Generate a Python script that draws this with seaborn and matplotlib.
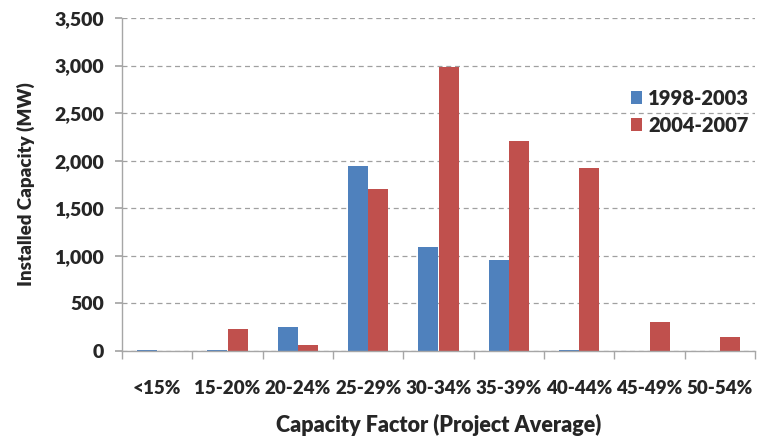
import matplotlib
matplotlib.use("Agg")
import matplotlib.pyplot as plt
import matplotlib.ticker as mticker
import seaborn as sns
import pandas as pd

categories = ["<15%", "15-20%", "20-24%", "25-29%", "30-34%", "35-39%", "40-44%", "45-49%", "50-54%"]
series_names = ["1998-2003", "2004-2007"]
values_1998_2003 = [10, 10, 250, 1940, 1090, 960, 15, 0, 0]
values_2004_2007 = [0, 230, 60, 1700, 2980, 2210, 1920, 310, 145]
colors = ["#4F81BD", "#C0504D"]

rows = []
for c, v in zip(categories, values_1998_2003):
    rows.append({"cat": c, "val": v, "period": series_names[0]})
for c, v in zip(categories, values_2004_2007):
    rows.append({"cat": c, "val": v, "period": series_names[1]})
df = pd.DataFrame(rows)

sns.set_theme(style="white")
plt.rcParams['font.family'] = ['Lato', 'DejaVu Sans']
W = 'heavy'
plt.rcParams['font.weight'] = W

fig = plt.figure(figsize=(7.59, 4.36), dpi=100)
ax = fig.add_axes([122/759, 1-351/436, 633/759, 333/436])

sns.barplot(data=df, x="cat", y="val", hue="period", order=categories,
            hue_order=series_names, palette=colors, width=0.57, ax=ax,
            linewidth=0, saturation=1, errorbar=None)

ax.set_xlim(-0.5, 8.5)
ax.set_ylim(0, 3500)
ax.yaxis.set_major_locator(mticker.MultipleLocator(500))
ax.yaxis.set_major_formatter(mticker.FuncFormatter(lambda v, p: f"{int(v):,}"))
ax.yaxis.grid(True, linestyle=(0, (4, 3)), color="#A0A0A0", linewidth=0.9)
ax.set_axisbelow(True)

for s in ["top", "right"]:
    ax.spines[s].set_visible(False)
for s in ["left", "bottom"]:
    ax.spines[s].set_color("#A6A6A6")
    ax.spines[s].set_linewidth(1.0)

ax.tick_params(axis="y", which="major", left=True, length=5, color="#A6A6A6", pad=8,
               labelsize=14)
ax.tick_params(axis="x", which="major", bottom=False, length=0, pad=21, labelsize=13.5)
ax.set_xticks([i - 0.5 for i in range(len(categories) + 1)], minor=True)
ax.tick_params(axis="x", which="minor", bottom=True, length=6, color="#A6A6A6")
for lbl in ax.get_xticklabels() + ax.get_yticklabels():
    lbl.set_fontweight(W)

ax.set_xlabel("Capacity Factor (Project Average)", fontsize=15.5, fontweight=W, labelpad=12)
ax.set_ylabel("Installed Capacity (MW)", fontsize=13.5, fontweight=W, labelpad=14)

leg = ax.legend(loc="upper left", bbox_to_anchor=(0.798, 0.80), frameon=False,
                handlelength=0.55, handleheight=0.55, handletextpad=0.3,
                labelspacing=0.4, borderaxespad=0, borderpad=0.2,
                prop={"size": 14.5, "weight": W})
leg.set_title(None)

fig.savefig("out.png", dpi=100)
